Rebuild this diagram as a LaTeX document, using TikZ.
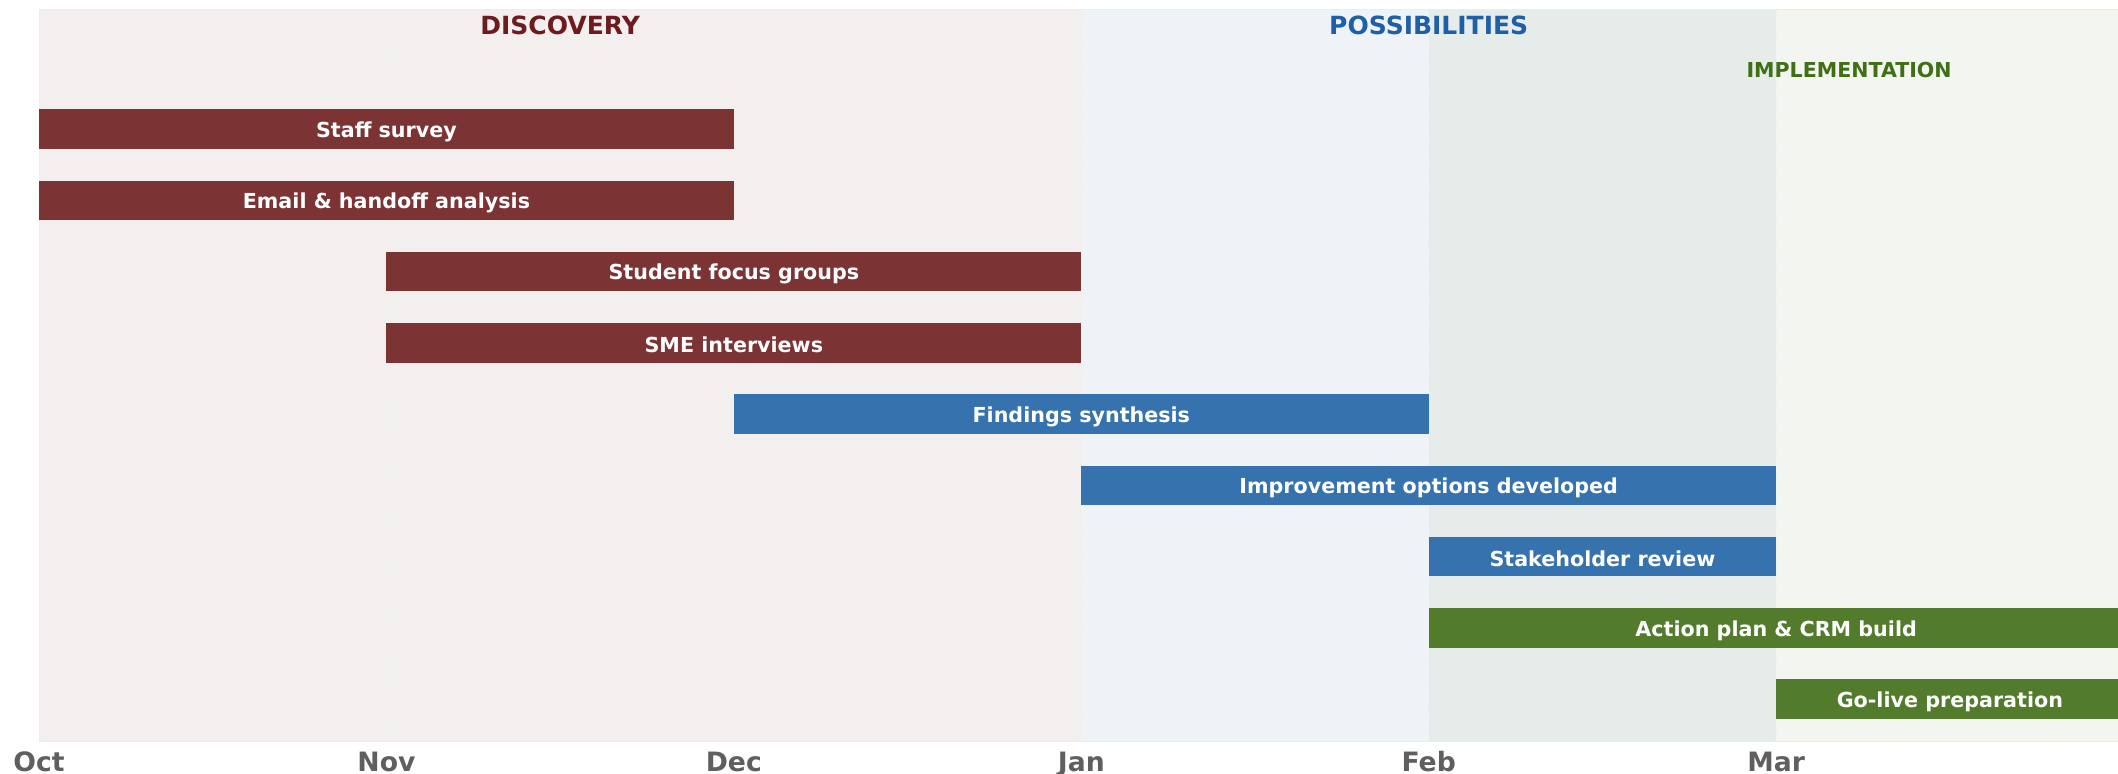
\documentclass[tikz,border=0pt]{standalone}
\usepackage{fontspec}
\setmainfont{DejaVu Sans}
\usetikzlibrary{positioning}

\definecolor{discbar}{HTML}{7B3334}
\definecolor{possbar}{HTML}{3572AE}
\definecolor{implbar}{HTML}{527C2C}
\definecolor{disctitle}{HTML}{6E1A1F}
\definecolor{posstitle}{HTML}{1F5FA8}
\definecolor{impltitle}{HTML}{3F7016}
\definecolor{discbg}{HTML}{F3EFEF}
\definecolor{possbg}{HTML}{EFF3F8}
\definecolor{overbg}{HTML}{E5ECEA}
\definecolor{implbg}{HTML}{F2F5F0}
\definecolor{monthgrey}{HTML}{5F5F5F}

\begin{document}
\begin{tikzpicture}[x=6cm,y=-1.2306cm,
  bar/.style={text=white,font=\bfseries\fontsize{10.15}{12}\selectfont},
  phase/.style={font=\bfseries\fontsize{12.3}{14}\selectfont},
  month/.style={anchor=base,text=monthgrey,font=\bfseries\fontsize{13.1}{15}\selectfont}]
\useasboundingbox (-0.1123,-0.8105) rectangle (5.984,10.05);
% Phase backgrounds
\fill[discbg] (0,-0.678) rectangle (3,9.589);
\fill[possbg] (3,-0.678) rectangle (4,9.589);
\fill[overbg] (4,-0.678) rectangle (5,9.589);
\fill[implbg] (5,-0.678) rectangle (6,9.589);
% Month grid and frame
\foreach \m in {1,...,5}
    \draw[gray!12,dashed] (\m,-0.678) -- (\m,9.589);
\draw[gray!15] (0,9.589) -- (0,-0.678) -- (6,-0.678);
\draw[gray!15] (0,9.589) -- (6,9.589);
% Phase titles
\node[phase,text=disctitle] (discovery) at (1.5,-0.45) {DISCOVERY};
\node[phase,text=posstitle] (possibilities) at (4,-0.45) {POSSIBILITIES};
\node[phase,text=impltitle,font=\bfseries\fontsize{10.1}{12}\selectfont] (implementation) at (5.21,0.17) {IMPLEMENTATION};
% Tasks
\foreach \r/\s/\e/\txt/\col in {1/0/2/Staff survey/discbar,
    2/0/2/Email \& handoff analysis/discbar,
    3/1/3/Student focus groups/discbar,
    4/1/3/SME interviews/discbar,
    5/2/4/Findings synthesis/possbar,
    6/3/5/Improvement options developed/possbar,
    7/4/5/Stakeholder review/possbar,
    8/4/6/Action plan \& CRM build/implbar,
    9/5/6/Go-live preparation/implbar} {
    \fill[\col] (\s,\r-0.277) rectangle (\e,\r+0.277);
    \node[bar] (task\r) at ({(\s+\e)/2},\r+0.035) {\txt};
}
% Months
\foreach \m/\name in {0/Oct,1/Nov,2/Dec,3/Jan,4/Feb,5/Mar}
    \node[month] (m\m) at (\m,10.02) {\name};
\end{tikzpicture}
\end{document}
